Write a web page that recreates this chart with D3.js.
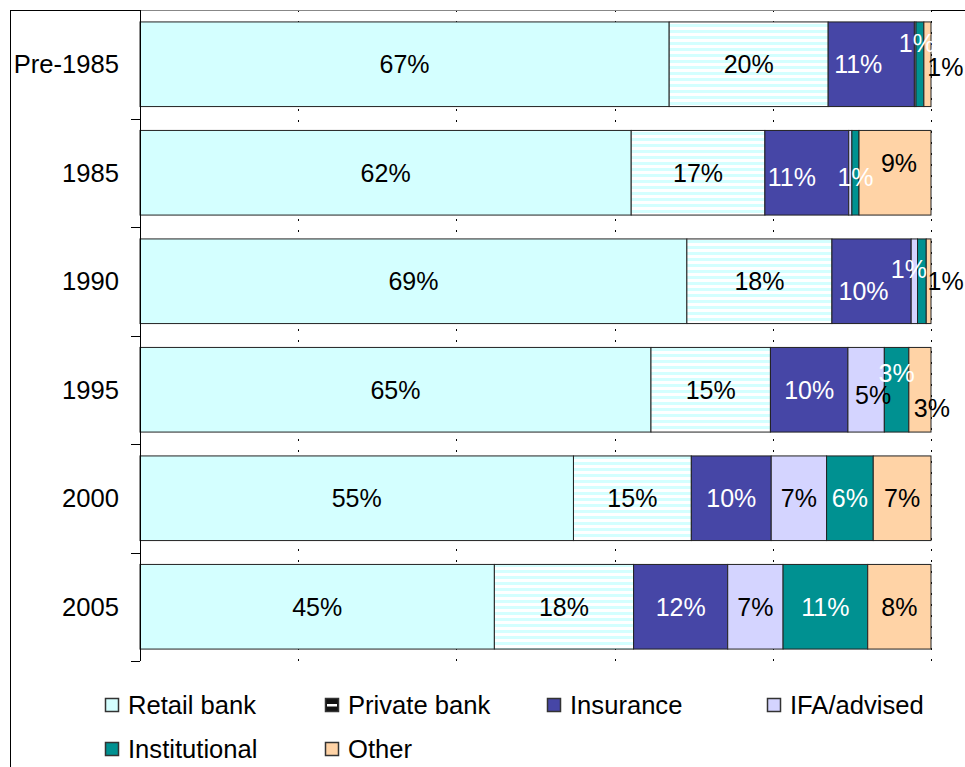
<!DOCTYPE html>
<html>
<head>
<meta charset="utf-8">
<script src="https://cdn.jsdelivr.net/npm/d3@7"></script>
<style>
  body { margin: 0; background: #fff; }
  svg { display: block; font-family: 'Liberation Sans', Arial, sans-serif; }
</style>
</head>
<body>
<script>
'use strict';
// categories (rows) and series (stack parts), values in percent
const categories = ['Pre-1985', '1985', '1990', '1995', '2000', '2005'];
const seriesNames = ['Retail bank', 'Private bank', 'Insurance', 'IFA/advised', 'Institutional', 'Other'];
const retailBank    = [66.9, 62.1, 69.0, 64.6, 54.8, 44.8];
const privateBank   = [20.1, 16.9, 18.3, 15.1, 14.9, 17.6];
const insurance     = [10.9, 10.6, 10.0,  9.8, 10.1, 11.9];
const ifaAdvised    = [ 0.2,  0.4,  0.8,  4.6,  7.0,  7.0];
const institutional = [ 1.0,  0.9,  1.1,  3.1,  5.9, 10.7];
const other         = [ 0.9,  9.1,  0.6,  2.8,  7.3,  8.0];
const xTicks = [0, 0.2, 0.4, 0.6, 0.8, 1];

const seriesValues = [retailBank, privateBank, insurance, ifaAdvised, institutional, other];
const colors = ['#d4ffff', 'url(#stripes)', '#4646a6', '#d4d4ff', '#009191', '#ffd3a6'];
const labelColors = ['#000', '#000', '#fff', '#000', '#fff', '#000'];

// labels that were hidden or moved by hand in the original
const hiddenLabels = ['1990|IFA/advised'];
const labelNudge = {
  'Pre-1985|Insurance': [-13, 0],
  'Pre-1985|Institutional': [-3, -21],
  'Pre-1985|Other': [18, 3],
  '1985|Insurance': [-15, 4],
  '1985|Institutional': [0, 4],
  '1985|Other': [4, -10],
  '1990|Insurance': [-8, 10],
  '1990|Institutional': [-13, -12],
  '1990|Other': [17, 0],
  '1995|IFA/advised': [7, 5],
  '1995|Institutional': [0, -17],
  '1995|Other': [12, 18]
};

const table = categories.map(function(c, i){
  const row = { cat: c };
  seriesNames.forEach(function(s, j){ row[s] = seriesValues[j][i]; });
  return row;
});

const svg = d3.select(document.body).append('svg')
  .attr('width', 965).attr('height', 767);

const defs = svg.append('defs');
const pat = defs.append('pattern').attr('id', 'stripes')
  .attr('patternUnits', 'userSpaceOnUse').attr('width', 6).attr('height', 6);
pat.append('rect').attr('width', 6).attr('height', 6).attr('fill', '#fff');
pat.append('rect').attr('width', 6).attr('height', 3).attr('fill', '#d4ffff');

const x = d3.scaleLinear().domain([0, 1]).range([140, 931]);
const y = d3.scaleBand().domain(categories).range([10, 661])
  .paddingInner(0.22).paddingOuter(0.11);

// outer frame of the chart
svg.append('rect')
  .attr('x', 10.5).attr('y', 10.5).attr('width', 1000).attr('height', 1000)
  .attr('fill', 'none').attr('stroke', '#000');

// dotted vertical gridlines
svg.append('g').selectAll('line')
  .data(xTicks.slice(1))
  .enter().append('line')
  .attr('x1', function(d){ return Math.round(x(d)) + 0.5; })
  .attr('x2', function(d){ return Math.round(x(d)) + 0.5; })
  .attr('y1', 10).attr('y2', 661)
  .attr('stroke', '#000').attr('stroke-dasharray', '2,9');

// plot area top edge (grey)
svg.append('line')
  .attr('x1', 140).attr('x2', 931).attr('y1', 10.5).attr('y2', 10.5)
  .attr('stroke', '#888');

const stack = d3.stack().keys(seriesNames).offset(d3.stackOffsetExpand);
const layers = stack(table);

const layerG = svg.append('g').selectAll('g')
  .data(layers).enter().append('g')
  .attr('fill', function(d, i){ return colors[i]; });

layerG.selectAll('rect')
  .data(function(d){ return d; })
  .enter().append('rect')
  .attr('x', function(d){ return x(d[0]); })
  .attr('width', function(d){ return x(d[1]) - x(d[0]); })
  .attr('y', function(d){ return y(d.data.cat); })
  .attr('height', y.bandwidth())
  .attr('stroke', '#222').attr('stroke-width', 1);

// value labels
const fmt = d3.format('.0%');
layers.forEach(function(layer, i){
  const s = seriesNames[i];
  layer.forEach(function(d){
    const key = d.data.cat + '|' + s;
    const v = d[1] - d[0];
    if (Math.round(v * 100) < 1 || hiddenLabels.indexOf(key) >= 0) return;
    const n = labelNudge[key] || [0, 0];
    svg.append('text')
      .attr('x', (x(d[0]) + x(d[1])) / 2 + n[0])
      .attr('y', y(d.data.cat) + y.bandwidth() / 2 + n[1])
      .attr('dy', '0.36em')
      .attr('text-anchor', 'middle')
      .attr('font-size', 25)
      .attr('fill', labelColors[i])
      .text(fmt(v));
  });
});

// left axis with ticks between categories
const yAxis = svg.append('g');
yAxis.append('line')
  .attr('x1', 140.5).attr('x2', 140.5).attr('y1', 10).attr('y2', 661)
  .attr('stroke', '#000');
const bounds = categories.map(function(c){ return y(c) - y.step() * y.paddingInner() / 2; })
  .concat([661]);
bounds[0] = 10;
yAxis.selectAll('.tk').data(bounds).enter().append('line')
  .attr('x1', 131).attr('x2', 140)
  .attr('y1', function(d){ return Math.round(d) + 0.5; })
  .attr('y2', function(d){ return Math.round(d) + 0.5; })
  .attr('stroke', '#000');
yAxis.selectAll('text').data(categories).enter().append('text')
  .attr('x', 119)
  .attr('y', function(d){ return y(d) + y.bandwidth() / 2; })
  .attr('dy', '0.36em')
  .attr('text-anchor', 'end')
  .attr('font-size', 25.6)
  .text(function(d){ return d; });

// legend
const legendX = [105, 325, 547, 767];
const legend = svg.append('g').selectAll('g')
  .data(seriesNames).enter().append('g')
  .attr('transform', function(d, i){
    return 'translate(' + legendX[i % 4] + ',' + (705 + Math.floor(i / 4) * 44) + ')';
  });
legend.append('rect')
  .attr('x', 0.5).attr('y', -6.5).attr('width', 13).attr('height', 13)
  .attr('fill', function(d, i){ return i === 1 ? '#111' : colors[i]; })
  .attr('stroke', '#333').attr('stroke-width', 1.5);
legend.filter(function(d, i){ return i === 1; }).append('rect')
  .attr('x', 2).attr('y', -1).attr('width', 10).attr('height', 2.5).attr('fill', '#fff');
legend.append('text')
  .attr('x', 23).attr('dy', '0.36em')
  .attr('font-size', 25.6)
  .text(function(d){ return d; });
</script>
</body>
</html>
